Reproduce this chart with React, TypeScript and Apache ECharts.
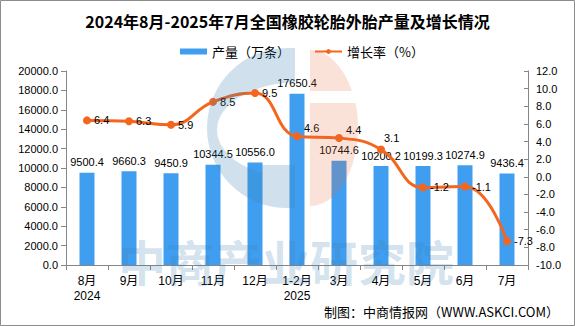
import React, { useEffect, useRef } from "react";
import * as echarts from "echarts";

const titleText = "2024年8月-2025年7月全国橡胶轮胎外胎产量及增长情况";
const categories = ["8月\n2024", "9月", "10月", "11月", "12月", "1-2月\n2025", "3月", "4月", "5月", "6月", "7月"];
const production = [9500.4, 9660.3, 9450.9, 10344.5, 10556.0, 17650.4, 10744.6, 10200.2, 10199.3, 10274.9, 9436.4];
const growth = [6.4, 6.3, 5.9, 8.5, 9.5, 4.6, 4.4, 3.1, -1.2, -1.1, -7.3];
const seriesNames = ["产量（万条）", "增长率（%）"];
const footerText = "制图：中商情报网（WWW.ASKCI.COM）";
const watermarkText = "中商产业研究院";

// label nudges for a few line labels (style, not data)
const lineLabelOffsets: Record<number, number[]> = { 5: [0, -8], 6: [0, -8], 7: [-4, -11] };

const cPath =
  "M 295 48 L 287 48 A 80 80 0 0 0 287 208 L 295 208 L 295 165 L 262 165 L 262 173 A 83 48 0 0 1 217 130 A 83 48 0 0 1 295 82 Z";
const halfPath =
  "M 310 50 A 48 78 0 0 1 352 91 L 310 91 Z M 310 103 L 355.5 103 A 48 78 0 0 1 310 206 Z";

let registered = false;
function registerShapes() {
  if (registered) return;
  registered = true;
  echarts.graphic.registerShape("logoC", echarts.graphic.extendPath(cPath, {}) as any);
  echarts.graphic.registerShape("logoHalf", echarts.graphic.extendPath(halfPath, {}) as any);
}

const numFont = "'Liberation Sans', 'Noto Sans CJK SC', sans-serif";
const cjkFont = "'Noto Sans CJK SC', sans-serif";

export default function App() {
  const ref = useRef<HTMLDivElement>(null);
  useEffect(() => {
    if (!ref.current) return;
    registerShapes();
    const chart = echarts.init(ref.current, null, { renderer: "svg" });
    const axisLine = { show: true, lineStyle: { color: "#868686", width: 1 } };
    const option: any = {
      animation: false,
      backgroundColor: "#fff",
      title: {
        text: titleText,
        left: "center",
        top: 8,
        textStyle: { fontSize: 16, fontWeight: "bold", color: "#000", fontFamily: cjkFont },
      },
      legend: {
        left: 175,
        top: 40,
        itemWidth: 27,
        itemHeight: 6,
        itemGap: 24,
        textStyle: { fontSize: 13, color: "#000", fontFamily: cjkFont },
        data: [{ name: seriesNames[0], icon: "rect" }, { name: seriesNames[1] }],
      },
      grid: { left: 66, right: 47, top: 71, bottom: 61 },
      xAxis: {
        type: "category",
        data: categories,
        axisLine,
        axisTick: { show: true, length: 5, lineStyle: { color: "#868686" } },
        axisLabel: { interval: 0, color: "#000", fontSize: 12, lineHeight: 15, fontFamily: numFont, margin: 8 },
      },
      yAxis: [
        {
          type: "value",
          min: 0,
          max: 20000,
          interval: 2000,
          axisLine,
          axisTick: { show: true, length: 5, lineStyle: { color: "#868686" } },
          splitLine: { show: false },
          axisLabel: { color: "#000", fontSize: 11, fontFamily: numFont, formatter: (v: number) => v.toFixed(1), margin: 8 },
        },
        {
          type: "value",
          min: -10,
          max: 12,
          interval: 2,
          position: "right",
          axisLine,
          axisTick: { show: true, length: 4, inside: true, lineStyle: { color: "#868686" } },
          splitLine: { show: false },
          axisLabel: { color: "#000", fontSize: 11, fontFamily: numFont, formatter: (v: number) => v.toFixed(1), margin: 8 },
        },
      ],
      series: [
        {
          name: seriesNames[0],
          type: "bar",
          data: production,
          barWidth: 15,
          itemStyle: { color: "#409EF0" },
          label: {
            show: true,
            position: "top",
            distance: 5,
            color: "#000",
            fontSize: 11,
            fontFamily: numFont,
            formatter: (p: any) => Number(p.value).toFixed(1),
          },
          z: 2,
        },
        {
          name: seriesNames[1],
          type: "line",
          yAxisIndex: 1,
          data: growth.map((v, i) =>
            lineLabelOffsets[i] ? { value: v, label: { offset: lineLabelOffsets[i] } } : v
          ),
          smooth: 0.45,
          symbol: "circle",
          symbolSize: 8,
          lineStyle: { color: "#F4651E", width: 3 },
          itemStyle: { color: "#F4651E" },
          label: {
            show: true,
            position: "right",
            distance: 3,
            color: "#000",
            fontSize: 11,
            fontFamily: numFont,
            formatter: (p: any) => Number(p.value).toFixed(1),
          },
          z: 3,
        },
      ],
      graphic: [
        {
          type: "logoC",
          x: 0,
          y: 0,
          silent: true,
          z: 100,
          style: { fill: "rgba(60,130,180,0.24)" },
        },
        {
          type: "logoHalf",
          x: 0,
          y: 0,
          silent: true,
          z: 100,
          style: { fill: "rgba(235,110,60,0.2)" },
        },
        {
          type: "text",
          x: 286,
          y: 260,
          silent: true,
          z: 100,
          style: {
            text: watermarkText,
            fill: "rgba(60,130,180,0.22)",
            font: "bold 48px 'Noto Sans CJK SC', sans-serif",
            align: "center",
            verticalAlign: "middle",
          },
        },
        {
          type: "text",
          x: 559,
          y: 311,
          z: 50,
          style: {
            text: footerText,
            fill: "#000",
            font: "13px 'Noto Sans CJK SC', sans-serif",
            align: "right",
            verticalAlign: "middle",
          },
        },
        {
          type: "rect",
          shape: { x: 0.5, y: 0.5, width: 574, height: 325 },
          silent: true,
          z: 120,
          style: { fill: "none", stroke: "#8c8c8c", lineWidth: 1 },
        },
      ],
    };
    chart.setOption(option);
    return () => chart.dispose();
  }, []);
  return <div ref={ref} style={{ position: "fixed", left: 0, top: 0, width: 575, height: 326 }} />;
}
